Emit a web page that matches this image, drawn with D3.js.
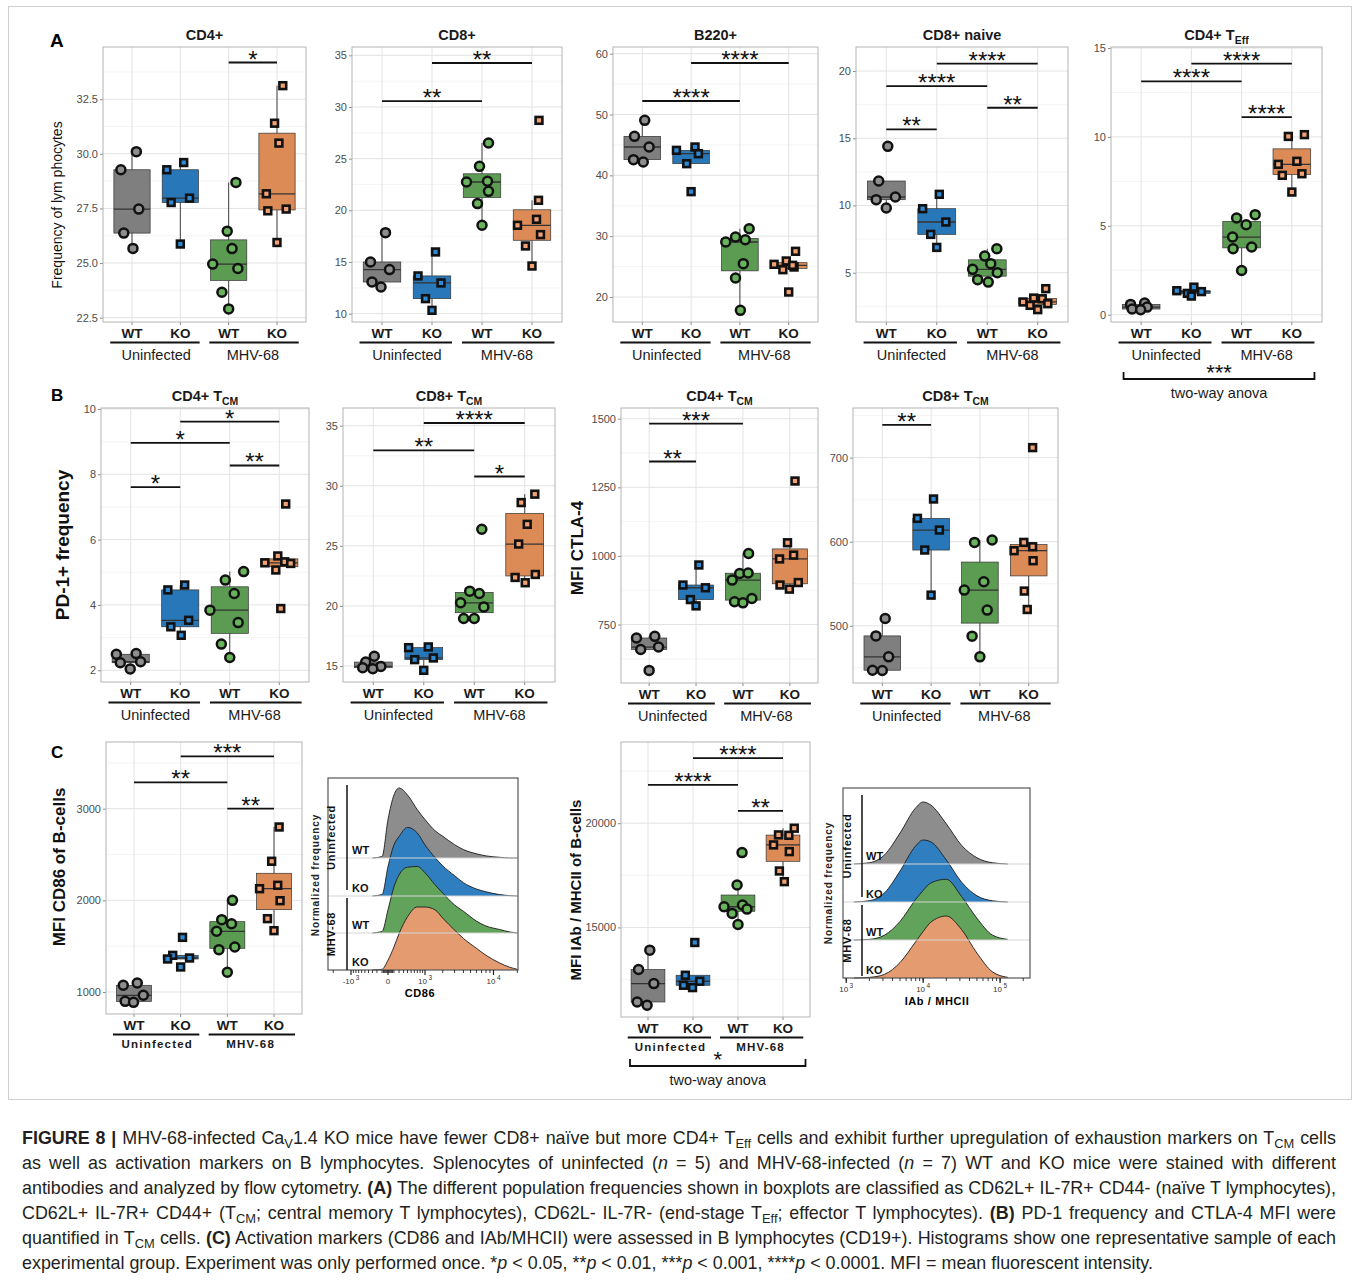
<!DOCTYPE html>
<html>
<head>
<meta charset="utf-8">
<title>Figure 8</title>
<script src="https://d3js.org/d3.v7.min.js"></script>
<style>
  body { margin: 0; background: #fff; }
  svg text { font-family: "Liberation Sans", Arial, Helvetica, sans-serif; }
</style>
</head>
<body>
<svg id="fig" width="1360" height="1282"></svg>
<script>
// ---------------- data ----------------
var groupLabels = ["WT", "KO", "WT", "KO"];
var infection = ["Uninfected", "MHV-68"];
var boxFill = ["#7f7f7f", "#2877b9", "#5b9b52", "#dd8b56"];
var ptFill = ["#8e8e8e", "#2f8ad6", "#68b35c", "#f3a172"];

// A - CD4+
var cd4Values = [[29.27, 30.1, 27.47, 26.37, 25.67], [29.27, 29.6, 27.77, 27.97, 25.87],
  [28.69, 26.46, 25.66, 24.95, 24.75, 23.66, 22.9], [33.12, 31.4, 30.49, 28.17, 27.39, 27.47, 25.94]];
var cd4Jitter = [[-0.23, 0.09, 0.14, -0.17, 0.02], [-0.28, 0.07, -0.19, 0.19, 0],
  [0.15, -0.03, 0.07, -0.33, 0.19, -0.14, 0], [0.12, -0.05, 0.04, -0.22, -0.19, 0.19, 0]];
var cd4Sig = [[3, 4, 34.18, "*"]];
var cd4Ticks = [22.5, 25, 27.5, 30, 32.5];

// A - CD8+
var cd8Values = [[17.84, 15.0, 14.26, 13.06, 12.58], [15.97, 13.65, 12.97, 11.45, 10.32],
  [26.52, 24.26, 22.74, 22.81, 21.84, 20.65, 18.55], [28.71, 20.97, 19.13, 18.55, 17.65, 16.55, 14.61]];
var cd8Jitter = [[0.07, -0.23, 0.15, -0.2, -0.02], [0.07, -0.28, 0.18, -0.13, 0],
  [0.13, -0.05, -0.31, 0.11, 0.13, -0.09, 0], [0.14, 0.13, 0.09, -0.29, 0.17, -0.13, 0]];
var cd8Sig = [[1, 3, 30.58, "**"], [2, 4, 34.26, "**"]];
var cd8Ticks = [10, 15, 20, 25, 30, 35];

// A - B220+
var b220Values = [[49.04, 46.41, 44.66, 42.58, 42.19], [44.11, 44.66, 43.56, 41.92, 37.32],
  [31.23, 29.04, 29.86, 29.42, 25.48, 23.12, 17.81], [27.51, 25.92, 25.37, 24.93, 24.49, 20.82, 25.21]];
var b220Jitter = [[0.05, -0.16, 0.14, -0.18, 0.02], [-0.3, 0.08, 0.15, -0.09, 0],
  [0.19, -0.29, -0.09, 0.11, 0.07, -0.09, 0.01], [0.14, -0.05, -0.3, 0.11, -0.12, 0, 0.08]];
var b220Sig = [[1, 3, 52.22, "****"], [2, 4, 58.47, "****"]];
var b220Ticks = [20, 30, 40, 50, 60];

// A - CD8+ naive
var naiveValues = [[14.4, 11.82, 10.43, 10.63, 9.81], [10.83, 9.76, 8.77, 7.85, 6.88],
  [6.78, 6.24, 5.67, 5.25, 5.0, 4.48, 4.3], [3.81, 2.82, 3.11, 3.06, 2.69, 2.57, 2.25]];
var naiveJitter = [[0.03, -0.15, -0.2, 0.18, 0], [0.05, -0.28, 0.18, -0.12, 0],
  [0.19, -0.05, 0.07, -0.29, 0.2, -0.19, 0.02], [0.16, -0.29, -0.08, 0.09, 0.2, -0.15, 0]];
var naiveSig = [[1, 2, 15.66, "**"], [1, 3, 18.88, "****"], [3, 4, 17.27, "**"], [2, 4, 20.55, "****"]];
var naiveTicks = [5, 10, 15, 20];

// A - CD4+ TEff
var effValues = [[0.58, 0.66, 0.43, 0.32, 0.28], [1.35, 1.2, 1.55, 1.05, 1.3],
  [5.63, 5.44, 5.06, 4.37, 3.81, 3.71, 2.49], [10.03, 10.13, 8.46, 8.63, 7.84, 7.93, 6.9]];
var effJitter = [[-0.21, 0.07, 0.12, -0.18, -0.01], [-0.29, -0.08, 0.05, 0, 0.2],
  [0.27, -0.1, 0.09, -0.18, 0.2, -0.17, 0], [-0.07, 0.25, -0.27, 0.1, -0.19, 0.2, 0]];
var effSig = [[1, 3, 13.13, "****"], [2, 4, 14.12, "****"], [3, 4, 11.12, "****"]];
var effTicks = [0, 5, 10, 15];

// B - PD-1 on CD4+ TCM
var pd1Values = [[2.49, 2.51, 2.23, 2.26, 2.04], [4.46, 4.61, 3.53, 3.33, 3.07],
  [5.02, 4.76, 4.35, 3.84, 3.46, 2.8, 2.39], [7.09, 5.5, 5.29, 5.32, 5.27, 5.07, 3.89]];
var pd1Jitter = [[-0.29, 0.11, -0.21, 0.2, -0.01], [-0.25, 0.09, 0.17, -0.19, 0.02],
  [0.28, -0.09, 0.09, -0.4, 0.17, -0.17, 0], [0.13, -0.03, -0.29, 0.11, 0.23, -0.07, 0.03]];
var pd1Sig = [[1, 2, 7.61, "*"], [1, 3, 8.96, "*"], [3, 4, 8.27, "**"], [2, 4, 9.61, "*"]];
var pd1Ticks = [2, 4, 6, 8, 10];

// B - PD-1 on CD8+ TCM
var pd1cd8Values = [[15.81, 15.33, 14.97, 14.78, 14.86], [16.53, 16.59, 15.53, 15.67, 14.64],
  [26.38, 21.23, 21.03, 20.26, 19.92, 18.95, 18.95], [29.3, 28.6, 26.79, 25.15, 22.37, 22.62, 21.93]];
var pd1cd8Jitter = [[0.02, -0.15, 0.15, -0.01, -0.21], [-0.3, 0.09, -0.18, 0.19, 0],
  [0.15, -0.09, 0.1, -0.27, 0.19, -0.21, 0], [0.2, -0.07, 0.05, -0.12, -0.19, 0.21, 0.01]];
var pd1cd8Sig = [[1, 3, 32.94, "**"], [2, 4, 35.22, "****"], [3, 4, 30.77, "*"]];
var pd1cd8Ticks = [15, 20, 25, 30, 35];

// B - CTLA-4 on CD4+ TCM
var ctlaValues = [[701, 707, 659, 668, 583], [967, 894, 884, 841, 818],
  [1009, 936, 938, 912, 845, 833, 829], [1273, 1048, 1003, 989, 903, 894, 879]];
var ctlaJitter = [[-0.27, 0.12, -0.18, 0.2, 0], [0.06, -0.28, 0.2, -0.12, 0],
  [0.12, -0.07, 0.11, -0.23, 0.19, -0.18, 0], [0.11, -0.05, 0.08, -0.22, 0.18, -0.21, -0.01]];
var ctlaSig = [[1, 2, 1344, "**"], [1, 3, 1482, "***"]];
var ctlaTicks = [750, 1000, 1250, 1500];

// B - CTLA-4 on CD8+ TCM
var ctla8Values = [[508.7, 488, 463.1, 447.2, 446.8], [650.8, 627.8, 613.9, 590.1, 536.5],
  [599.2, 602, 552.4, 542.5, 518.7, 487.7, 463.1], [711.9, 599.2, 589.3, 594, 577.4, 541.3, 519.4]];
var ctla8Jitter = [[0.06, -0.13, 0.13, -0.2, 0], [0.05, -0.28, 0.17, -0.13, 0],
  [-0.11, 0.25, 0.08, -0.32, 0.15, -0.16, 0], [0.08, -0.1, -0.3, 0.08, 0.09, -0.09, -0.03]];
var ctla8Sig = [[1, 2, 738.9, "**"]];
var ctla8Ticks = [500, 600, 700];

// C - CD86 MFI
var cd86Values = [[1073, 1098, 964, 898, 887], [1596, 1400, 1371, 1360, 1273],
  [2000, 1789, 1745, 1662, 1491, 1462, 1215], [2800, 2426, 2164, 2127, 1996, 1800, 1669]];
var cd86Jitter = [[-0.23, 0.07, 0.2, -0.19, -0.01], [0.04, -0.17, 0.19, -0.28, 0],
  [0.11, -0.12, 0.09, -0.23, 0.16, -0.18, 0], [0.11, -0.05, 0.08, -0.31, 0.13, -0.14, 0]];
var cd86Sig = [[1, 3, 3287, "**"], [2, 4, 3571, "***"], [3, 4, 3000, "**"]];
var cd86Ticks = [1000, 2000, 3000];

// C - IAb / MHCII MFI
var mhcValues = [[13909, 12979, 12306, 11424, 11264], [14277, 12706, 12225, 12418, 12113],
  [18589, 17034, 15992, 16073, 15672, 15880, 15143], [19760, 19439, 19420, 18958, 18637, 17708, 17195]];
var mhcJitter = [[0.04, -0.21, 0.13, -0.24, -0.02], [0.04, -0.17, -0.21, 0.15, -0.01],
  [0.09, -0.02, -0.31, 0.1, -0.13, 0.2, 0], [0.25, -0.1, 0.13, -0.21, 0.14, -0.08, 0.03]];
var mhcSig = [[1, 3, 21843, "****"], [2, 4, 23126, "****"], [3, 4, 20593, "**"]];
var mhcTicks = [15000, 20000];

// histograms (normalized frequency, 0..1 of the row peak)
var cd86Grid = [-300, -100, 0, 100, 200, 400, 700, 1000, 1500, 2000, 3000, 4000, 6000, 8000, 12000, 16000, 20000];
var cd86Hist = [
  [0, 0.02, 0.55, 0.9, 1.0, 0.9, 0.69, 0.55, 0.39, 0.31, 0.19, 0.12, 0.06, 0.03, 0.01, 0, 0],
  [0, 0.02, 0.42, 0.73, 0.85, 0.98, 0.9, 0.73, 0.55, 0.43, 0.29, 0.19, 0.1, 0.06, 0.02, 0.005, 0],
  [0, 0.02, 0.33, 0.66, 0.83, 0.94, 0.95, 0.86, 0.69, 0.57, 0.4, 0.31, 0.17, 0.1, 0.05, 0.015, 0],
  [0, 0.01, 0.14, 0.33, 0.52, 0.76, 0.9, 0.9, 0.86, 0.74, 0.57, 0.45, 0.31, 0.21, 0.1, 0.04, 0.01]];
var mhcGrid = [1259, 1995, 3162, 5012, 7943, 10000, 12589, 19953, 31623, 50119, 79433, 125893];
var mhcHist = [
  [0, 0.02, 0.15, 0.5, 0.9, 1.0, 0.95, 0.65, 0.3, 0.1, 0.02, 0],
  [0, 0.02, 0.15, 0.5, 0.9, 1.0, 0.97, 0.68, 0.32, 0.1, 0.02, 0],
  [0, 0.01, 0.08, 0.3, 0.65, 0.8, 0.92, 0.98, 0.7, 0.35, 0.08, 0.01],
  [0, 0.01, 0.06, 0.25, 0.58, 0.75, 0.9, 1.0, 0.78, 0.4, 0.1, 0.01]];
var histFill = ["#8d8d8d", "#2f7fc0", "#62a35b", "#e59b70"];

// caption
var captionLines = [
  [["FIGURE 8 |", "b"], [" MHV-68-infected Ca"], ["V", "sub"], ["1.4 KO mice have fewer CD8+ naïve but more CD4+ T"], ["Eff", "sub"], [" cells and exhibit further upregulation of exhaustion markers on T"], ["CM", "sub"], [" cells"]],
  [["as well as activation markers on B lymphocytes. Splenocytes of uninfected ("], ["n", "i"], [" = 5) and MHV-68-infected ("], ["n", "i"], [" = 7) WT and KO mice were stained with different"]],
  [["antibodies and analyzed by flow cytometry. "], ["(A)", "b"], [" The different population frequencies shown in boxplots are classified as CD62L+ IL-7R+ CD44- (naïve T lymphocytes),"]],
  [["CD62L+ IL-7R+ CD44+ (T"], ["CM", "sub"], ["; central memory T lymphocytes), CD62L- IL-7R- (end-stage T"], ["Eff", "sub"], ["; effector T lymphocytes). "], ["(B)", "b"], [" PD-1 frequency and CTLA-4 MFI were"]],
  [["quantified in T"], ["CM", "sub"], [" cells. "], ["(C)", "b"], [" Activation markers (CD86 and IAb/MHCII) were assessed in B lymphocytes (CD19+). Histograms show one representative sample of each"]],
  [["experimental group. Experiment was only performed once. *"], ["p", "i"], [" < 0.05, **"], ["p", "i"], [" < 0.01, ***"], ["p", "i"], [" < 0.001, ****"], ["p", "i"], [" < 0.0001. MFI = mean fluorescent intensity."]]
];

// ---------------- drawing ----------------
var svg = d3.select("#fig");

// light frame around the figure area
svg.append("rect").attr("x", 8.5).attr("y", 6.5).attr("width", 1343).attr("height", 1093)
  .attr("fill", "none").attr("stroke", "#cfcfcf").attr("stroke-width", 1);

function boxStats(v) {
  var s = v.slice().sort(d3.ascending);
  var q1 = d3.quantile(s, 0.25), md = d3.quantile(s, 0.5), q3 = d3.quantile(s, 0.75);
  var iqr = q3 - q1;
  return {
    q1: q1, md: md, q3: q3,
    lo: d3.min(s.filter(function(d) { return d >= q1 - 1.5 * iqr; })),
    hi: d3.max(s.filter(function(d) { return d <= q3 + 1.5 * iqr; }))
  };
}

function title(x, y, main, sub, size) {
  var t = svg.append("text").attr("x", x).attr("y", y).attr("text-anchor", "middle")
    .attr("font-weight", "bold").attr("font-size", size).attr("fill", "#1a1a1a");
  t.append("tspan").text(main);
  if (sub) t.append("tspan").attr("font-size", size * 0.72).attr("dy", 4).text(sub);
}

function yLabel(x, y, txt, size, weight) {
  svg.append("text").attr("transform", "translate(" + x + "," + y + ") rotate(-90)")
    .attr("text-anchor", "middle").attr("font-size", size).attr("font-weight", weight)
    .attr("fill", "#111").text(txt);
}

function stars(g, x, y, label, size) {
  g.append("text").attr("x", x).attr("y", y).attr("text-anchor", "middle")
    .attr("font-size", size || 24).attr("fill", "#111").text(label);
}

function boxPanel(p) {
  var x = d3.scaleLinear().domain([0.4, 4.6]).range([p.left, p.right]);
  var y = d3.scaleLinear().domain(p.domain).range([p.bottom, p.top]);
  var g = svg.append("g");

  // grid
  var step = p.ticks[1] - p.ticks[0];
  var minor = [];
  for (var t = p.ticks[0] - step / 2; t <= p.domain[1]; t += step) {
    if (t >= p.domain[0]) minor.push(t);
  }
  g.selectAll(".minor").data(minor).enter().append("line")
    .attr("x1", p.left).attr("x2", p.right)
    .attr("y1", function(d) { return y(d); }).attr("y2", function(d) { return y(d); })
    .attr("stroke", "#f1f1f1").attr("stroke-width", 0.8);
  g.selectAll(".major").data(p.ticks).enter().append("line")
    .attr("x1", p.left).attr("x2", p.right)
    .attr("y1", function(d) { return y(d); }).attr("y2", function(d) { return y(d); })
    .attr("stroke", "#e3e3e3").attr("stroke-width", 1);
  g.selectAll(".vmajor").data([1, 2, 3, 4]).enter().append("line")
    .attr("y1", p.top).attr("y2", p.bottom)
    .attr("x1", function(d) { return x(d); }).attr("x2", function(d) { return x(d); })
    .attr("stroke", "#e3e3e3").attr("stroke-width", 1);

  // y axis
  var ax = g.append("g").attr("transform", "translate(" + p.left + ",0)")
    .call(d3.axisLeft(y).tickValues(p.ticks).tickSize(3).tickPadding(2)
      .tickFormat(p.fmt || d3.format("d")));
  ax.select(".domain").remove();
  ax.selectAll("line").attr("stroke", "#8a8a8a");
  ax.selectAll("text").attr("font-size", 11).attr("fill", "#4d4d4d")
    .attr("font-family", '"Liberation Sans", Arial, sans-serif');

  // x ticks
  g.selectAll(".xt").data([1, 2, 3, 4]).enter().append("line")
    .attr("x1", function(d) { return x(d); }).attr("x2", function(d) { return x(d); })
    .attr("y1", p.bottom).attr("y2", p.bottom + 3).attr("stroke", "#8a8a8a");

  // boxes
  p.values.forEach(function(vals, i) {
    var s = boxStats(vals), cx = x(i + 1);
    g.append("line").attr("x1", cx).attr("x2", cx).attr("y1", y(s.hi)).attr("y2", y(s.q3))
      .attr("stroke", "#444").attr("stroke-width", 1);
    g.append("line").attr("x1", cx).attr("x2", cx).attr("y1", y(s.q1)).attr("y2", y(s.lo))
      .attr("stroke", "#444").attr("stroke-width", 1);
    g.append("rect").attr("x", x(i + 1 - 0.375)).attr("width", x(i + 1.375) - x(i + 1 - 0.375))
      .attr("y", y(s.q3)).attr("height", Math.max(1, y(s.q1) - y(s.q3)))
      .attr("fill", boxFill[i]).attr("stroke", "#333").attr("stroke-width", 0.7);
    g.append("line").attr("x1", x(i + 1 - 0.375)).attr("x2", x(i + 1.375))
      .attr("y1", y(s.md)).attr("y2", y(s.md)).attr("stroke", "#333").attr("stroke-width", 1.3);
  });

  // points
  p.values.forEach(function(vals, i) {
    vals.forEach(function(v, k) {
      var px = x(i + 1 + p.jitter[i][k]), py = y(v);
      if (i % 2 === 0) {
        g.append("circle").attr("cx", px).attr("cy", py).attr("r", 4.5)
          .attr("fill", ptFill[i]).attr("stroke", "#111").attr("stroke-width", 2.5);
      } else {
        g.append("rect").attr("x", px - 3.4).attr("y", py - 3.4).attr("width", 6.8).attr("height", 6.8)
          .attr("fill", ptFill[i]).attr("stroke", "#111").attr("stroke-width", 2.6);
      }
    });
  });

  // border
  g.append("rect").attr("x", p.left).attr("y", p.top)
    .attr("width", p.right - p.left).attr("height", p.bottom - p.top)
    .attr("fill", "none").attr("stroke", "#b3b3b3").attr("stroke-width", 1);

  // significance bars
  p.sig.forEach(function(s) {
    g.append("line").attr("x1", x(s[0])).attr("x2", x(s[1])).attr("y1", y(s[2])).attr("y2", y(s[2]))
      .attr("stroke", "#111").attr("stroke-width", 1.8);
    stars(g, (x(s[0]) + x(s[1])) / 2, y(s[2]) + 5, s[3]);
  });

  // category labels
  var small = p.smallGroups;
  g.selectAll(".xl").data(groupLabels).enter().append("text")
    .attr("x", function(d, i) { return x(i + 1); }).attr("y", p.bottom + 16)
    .attr("text-anchor", "middle").attr("font-size", 13.5).attr("font-weight", "bold")
    .attr("fill", "#1a1a1a").text(function(d) { return d; });
  [[0.55, 2.4], [2.6, 4.45]].forEach(function(r, j) {
    g.append("line").attr("x1", x(r[0])).attr("x2", x(r[1]))
      .attr("y1", p.bottom + 20.5).attr("y2", p.bottom + 20.5)
      .attr("stroke", "#111").attr("stroke-width", 1.8);
    g.append("text").attr("x", x(j * 2 + 1.5)).attr("y", p.bottom + (small ? 34 : 38))
      .attr("text-anchor", "middle").attr("fill", "#1a1a1a")
      .attr("font-size", small ? 11.5 : 14.5).attr("font-weight", small ? "bold" : "normal")
      .attr("letter-spacing", small ? 1.2 : 0).text(infection[j]);
  });

  if (p.anova) {
    var ya = p.anova.y, xa = x(p.anova.from), xb = x(p.anova.to);
    g.append("path").attr("d", "M" + xa + "," + (ya - 7) + "V" + ya + "H" + xb + "V" + (ya - 7))
      .attr("fill", "none").attr("stroke", "#111").attr("stroke-width", 1.8);
    stars(g, (xa + xb) / 2, ya + 1, p.anova.label, 22);
    g.append("text").attr("x", (xa + xb) / 2).attr("y", ya + 19).attr("text-anchor", "middle")
      .attr("font-size", 14.5).attr("fill", "#1a1a1a").text("two-way anova");
  }
}

// ---- panel A ----
boxPanel({left: 103, right: 306, top: 47, bottom: 322, domain: [22.3, 34.89], ticks: cd4Ticks,
  fmt: d3.format(".1f"), values: cd4Values, jitter: cd4Jitter, sig: cd4Sig});
boxPanel({left: 352, right: 562, top: 47, bottom: 322, domain: [9.19, 35.81], ticks: cd8Ticks,
  values: cd8Values, jitter: cd8Jitter, sig: cd8Sig});
boxPanel({left: 613, right: 818, top: 47, bottom: 322, domain: [15.89, 61.1], ticks: b220Ticks,
  values: b220Values, jitter: b220Jitter, sig: b220Sig});
boxPanel({left: 856, right: 1068, top: 47, bottom: 322, domain: [1.33, 21.79], ticks: naiveTicks,
  values: naiveValues, jitter: naiveJitter, sig: naiveSig});
boxPanel({left: 1111, right: 1322, top: 47, bottom: 322, domain: [-0.41, 15.06], ticks: effTicks,
  values: effValues, jitter: effJitter, sig: effSig, anova: {from: 0.65, to: 4.45, y: 379, label: "***"}});

title(204.5, 40, "CD4+", null, 14.5);
title(457, 40, "CD8+", null, 14.5);
title(715.5, 40, "B220+", null, 14.5);
title(962, 40, "CD8+ naive", null, 14.5);
title(1216.5, 40, "CD4+ T", "Eff", 14.5);
yLabel(62, 205, "Frequency of lym phocytes", 14, "normal");
svg.append("text").attr("x", 50).attr("y", 47).attr("font-size", 19).attr("font-weight", "bold").text("A");

// ---- panel B ----
boxPanel({left: 101, right: 309, top: 408, bottom: 682, domain: [1.64, 10.03], ticks: pd1Ticks,
  values: pd1Values, jitter: pd1Jitter, sig: pd1Sig});
boxPanel({left: 343, right: 555, top: 408, bottom: 682, domain: [13.67, 36.47], ticks: pd1cd8Ticks,
  values: pd1cd8Values, jitter: pd1cd8Jitter, sig: pd1cd8Sig});
boxPanel({left: 621, right: 818, top: 408, bottom: 683, domain: [537, 1539], ticks: ctlaTicks,
  values: ctlaValues, jitter: ctlaJitter, sig: ctlaSig});
boxPanel({left: 853, right: 1058, top: 408, bottom: 683, domain: [432, 759], ticks: ctla8Ticks,
  values: ctla8Values, jitter: ctla8Jitter, sig: ctla8Sig});

title(205, 401, "CD4+ T", "CM", 14.5);
title(449, 401, "CD8+ T", "CM", 14.5);
title(719.5, 401, "CD4+ T", "CM", 14.5);
title(955.5, 401, "CD8+ T", "CM", 14.5);
yLabel(69, 545, "PD-1+ frequency", 19, "bold");
yLabel(583, 548, "MFI CTLA-4", 17, "bold");
svg.append("text").attr("x", 51).attr("y", 401).attr("font-size", 17).attr("font-weight", "bold").text("B");

// ---- panel C ----
boxPanel({left: 106, right: 302, top: 742, bottom: 1014, domain: [760, 3727], ticks: cd86Ticks,
  values: cd86Values, jitter: cd86Jitter, sig: cd86Sig, smallGroups: true});
boxPanel({left: 621, right: 810, top: 742, bottom: 1017, domain: [10703, 23895], ticks: mhcTicks,
  values: mhcValues, jitter: mhcJitter, sig: mhcSig, smallGroups: true,
  anova: {from: 0.6, to: 4.5, y: 1066, label: "*"}});
yLabel(65, 867, "MFI CD86 of B-cells", 17, "bold");
yLabel(581, 890, "MFI IAb / MHCII of B-cells", 15, "bold");
svg.append("text").attr("x", 51).attr("y", 758).attr("font-size", 17).attr("font-weight", "bold").text("C");

// ---- histograms ----
function histPanel(h) {
  var g = svg.append("g");
  var x = h.scale;
  h.curves.forEach(function(c, i) {
    var base = h.baselines[i];
    var area = d3.area().x(function(d, j) { return x(h.grid[j]); })
      .y0(base).y1(function(d) { return base - d * h.peak; }).curve(d3.curveMonotoneX);
    var line = d3.line().x(function(d, j) { return x(h.grid[j]); })
      .y(function(d) { return base - d * h.peak; }).curve(d3.curveMonotoneX);
    g.append("path").datum(c).attr("d", area).attr("fill", histFill[i]);
    g.append("path").datum(c).attr("d", line).attr("fill", "none")
      .attr("stroke", "#1c1c1c").attr("stroke-width", 0.9);
  });
  h.baselines.slice(0, 3).forEach(function(b) {
    g.append("line").attr("x1", h.left).attr("x2", h.right).attr("y1", b).attr("y2", b)
      .attr("stroke", "#d6d6d6").attr("stroke-width", 1.2);
  });
  g.append("rect").attr("x", h.left).attr("y", h.top).attr("width", h.right - h.left)
    .attr("height", h.bottom - h.top).attr("fill", "none").attr("stroke", "#555").attr("stroke-width", 1.2);

  // axis ticks
  h.minor.forEach(function(v) {
    g.append("line").attr("x1", x(v)).attr("x2", x(v)).attr("y1", h.bottom).attr("y2", h.bottom + 3)
      .attr("stroke", "#222").attr("stroke-width", 0.9);
  });
  h.major.forEach(function(m) {
    g.append("line").attr("x1", x(m[0])).attr("x2", x(m[0])).attr("y1", h.bottom).attr("y2", h.bottom + 5)
      .attr("stroke", "#222").attr("stroke-width", 1.2);
    var t = g.append("text").attr("x", x(m[0])).attr("y", h.bottom + 14).attr("text-anchor", "middle")
      .attr("font-size", 8).attr("fill", "#333");
    t.append("tspan").text(m[1]);
    if (m[2]) t.append("tspan").attr("dy", -4).attr("font-size", 6.5).attr("dx", 1.5).text(m[2]);
  });
  g.append("text").attr("x", h.xlabelX).attr("y", h.bottom + 27).attr("text-anchor", "middle")
    .attr("font-size", 11).attr("font-weight", "bold").attr("letter-spacing", 0.6).text(h.xlabel);

  // left annotations
  svg.append("text").attr("transform", "translate(" + h.normX + "," + h.normY + ") rotate(-90)")
    .attr("text-anchor", "middle").attr("font-size", 10).attr("font-weight", "bold")
    .attr("letter-spacing", 0.9).attr("fill", "#222").text("Normalized frequency");
  infection.forEach(function(lbl, j) {
    var r = h.brackets[j];
    g.append("line").attr("x1", h.bracketX).attr("x2", h.bracketX).attr("y1", r[0]).attr("y2", r[1])
      .attr("stroke", "#111").attr("stroke-width", 1.5);
    g.append("text").attr("transform", "translate(" + h.groupX + "," + ((r[0] + r[1]) / 2) + ") rotate(-90)")
      .attr("text-anchor", "middle").attr("font-size", 11).attr("font-weight", "bold")
      .attr("letter-spacing", 0.8).attr("fill", "#111").text(lbl);
  });
  groupLabels.forEach(function(lbl, i) {
    g.append("text").attr("x", h.rowX).attr("y", h.baselines[i] - 4)
      .attr("font-size", 11).attr("font-weight", "bold").attr("fill", "#111").text(lbl);
  });
}

var cd86Minor = [];
[-1, 1].forEach(function(sg) {
  for (var k = 1; k <= 9; k++) cd86Minor.push(sg * k * 100);
  for (var k2 = 2; k2 <= 9; k2++) if (sg > 0 || k2 <= 2) cd86Minor.push(sg * k2 * 1000);
});
cd86Minor.push(20000);
for (var k3 = -5; k3 <= 5; k3++) cd86Minor.push(k3 * 15);

histPanel({
  left: 328, right: 518, top: 778, bottom: 970,
  scale: d3.scaleSymlog().constant(550).domain([-2400, 20400]).range([328, 518]),
  grid: cd86Grid, curves: cd86Hist, baselines: [858, 896, 933, 970], peak: 70,
  minor: cd86Minor,
  major: [[-1000, "-10", "3"], [0, "0"], [1000, "10", "3"], [10000, "10", "4"]],
  xlabel: "CD86", xlabelX: 420,
  normX: 319, normY: 875, groupX: 335, bracketX: 347,
  brackets: [[785, 890], [898, 970]], rowX: 352
});

var mhcMinor = [];
[1000, 10000, 100000].forEach(function(dec) {
  for (var k = 1; k <= 9; k++) if (dec * k < 245000) mhcMinor.push(dec * k);
});

histPanel({
  left: 843, right: 1030, top: 788, bottom: 978,
  scale: d3.scaleLog().domain([830, 245000]).range([840, 1030]),
  grid: mhcGrid, curves: mhcHist, baselines: [864, 902, 940, 978], peak: 62,
  minor: mhcMinor,
  major: [[1000, "10", "3"], [10000, "10", "4"], [100000, "10", "5"]],
  xlabel: "IAb / MHCII", xlabelX: 937,
  normX: 832, normY: 883, groupX: 851, bracketX: 862,
  brackets: [[795, 897], [905, 976]], rowX: 866
});

// ---- caption ----
var capSize = 17.9;
captionLines.forEach(function(segs, li) {
  var t = svg.append("text").attr("x", 22).attr("y", 1144 + li * 25)
    .attr("font-size", capSize).attr("fill", "#231f20");
  var prevSub = false;
  segs.forEach(function(s) {
    var ts = t.append("tspan").text(s[0]);
    if (s[1] === "b") ts.attr("font-weight", "bold");
    if (s[1] === "i") ts.attr("font-style", "italic");
    if (s[1] === "sub") { ts.attr("dy", 4).attr("font-size", capSize * 0.72); prevSub = true; }
    else if (prevSub) { ts.attr("dy", -4); prevSub = false; }
  });
  if (li < captionLines.length - 1) {
    var full = segs.map(function(s) { return s[0]; }).join("");
    var spaces = (full.match(/ /g) || []).length;
    var len = t.node().getComputedTextLength();
    var target = 1314;
    if (spaces > 0) t.attr("word-spacing", (target - len) / spaces);
  }
});
</script>
</body>
</html>
